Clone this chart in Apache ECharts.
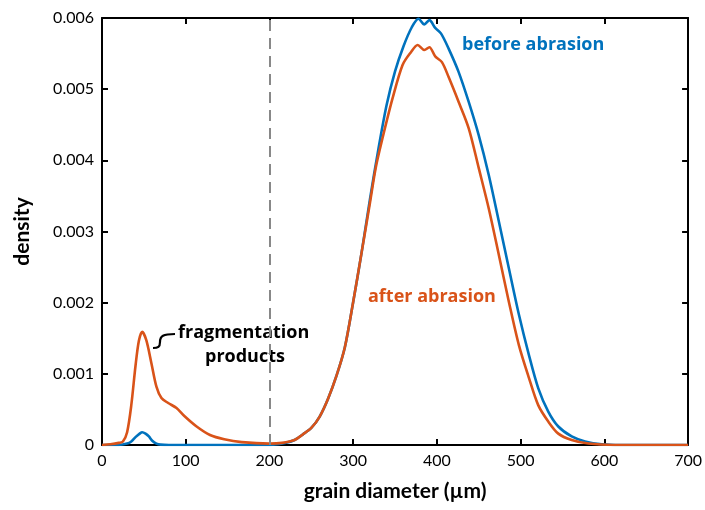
<!DOCTYPE html>
<html>
<head>
<meta charset="utf-8">
<script src="https://cdn.jsdelivr.net/npm/echarts@6/dist/echarts.min.js"></script>
<style>html,body{margin:0;padding:0;background:#fff}#c{width:705px;height:510px}</style>
</head>
<body>
<div id="c"></div>
<script>
// grain diameter (µm) and density values
const beforeX = [0,10,20,30,35,40,45,48,52,56,60,65,70,80,100,150,200,210,220,230,240,250,260,270,280,290,300,310,320,330,340,350,360,370,378,385,391,398,405,414,426,438,450,462,474,486,498,510,521,533,545,561,577,597,620,700];
const beforeY = [0,0,0,0.00002,0.00005,0.00011,0.00016,0.00018,0.00016,0.00012,0.00006,0.00002,0.000005,0,0,0,0,0.00001,0.00003,0.00007,0.00015,0.00024,0.0004,0.00065,0.00097,0.00137,0.00201,0.0027,0.00345,0.00415,0.00478,0.00525,0.0056,0.00587,0.00599,0.00591,0.00597,0.00586,0.00578,0.00557,0.00524,0.00482,0.00435,0.00379,0.00314,0.00248,0.00183,0.00126,0.0008,0.00047,0.00026,0.00012,0.00005,0.00001,0,0];
const afterX = [0,10,20,25,30,35,40,44,48,53,59,65,71,79,89,99,113,129,146,167,200,215,230,240,250,260,270,280,290,300,310,320,327,335,347,359,369,377,385,391,398,406,414,426,438,450,462,474,486,498,510,521,533,545,561,581,610,700];
const afterY = [0,0.00001,0.00003,0.00005,0.00018,0.00056,0.00111,0.00146,0.00159,0.00147,0.00115,0.00082,0.00066,0.00059,0.00052,0.0004,0.00026,0.00014,0.00008,0.00004,0.00002,0.00003,0.00007,0.00015,0.00024,0.0004,0.00065,0.00097,0.00137,0.00201,0.0027,0.0034,0.0039,0.00431,0.00487,0.00534,0.00552,0.00562,0.00555,0.00559,0.00546,0.00538,0.00517,0.00482,0.00445,0.00389,0.00332,0.00267,0.00201,0.0014,0.00094,0.00056,0.00033,0.00016,0.00007,0.00002,0,0];
const xTicks = [0,100,200,300,400,500,600,700];
const yTicks = [0,0.001,0.002,0.003,0.004,0.005,0.006];
const cutoff = 200;

const FONT = 'Lato, "Open Sans", sans-serif';
const AFONT = '"Open Sans", Lato, sans-serif';
const chart = echarts.init(document.getElementById('c'), null, {renderer:'canvas'});
const pair = (xs, ys) => xs.map((x,i)=>[x, ys[i]]);
const axisCommon = {
  axisLine:{show:true, onZero:false, lineStyle:{color:'#000', width:2}},
  axisTick:{show:true, inside:true, length:6, lineStyle:{color:'#000', width:2}},
  splitLine:{show:false}
};
chart.setOption({
  animation:false,
  backgroundColor:'#fff',
  grid:{left:102, right:15, top:18, bottom:65},
  xAxis:[
    Object.assign({type:'value', min:0, max:700, interval:100, position:'bottom',
      name:'grain diameter (µm)', nameLocation:'middle', nameGap:36,
      nameTextStyle:{fontFamily:FONT, fontWeight:'bold', fontSize:21, color:'#000'},
      axisLabel:{fontFamily:FONT, fontSize:16, color:'#000', margin:8}}, axisCommon),
    Object.assign({type:'value', min:0, max:700, interval:100, position:'top',
      axisLabel:{show:false}}, axisCommon)
  ],
  yAxis:[
    Object.assign({type:'value', min:0, max:0.006, interval:0.001, position:'left',
      name:'density', nameLocation:'middle', nameGap:69,
      nameTextStyle:{fontFamily:FONT, fontWeight:'bold', fontSize:21, color:'#000'},
      axisLabel:{fontFamily:FONT, fontSize:16, color:'#000', margin:8,
        formatter:v => v===0 ? '0' : v.toFixed(3)}}, axisCommon),
    Object.assign({type:'value', min:0, max:0.006, interval:0.001, position:'right',
      axisLabel:{show:false}}, axisCommon)
  ],
  series:[
    {type:'line', name:'before abrasion', data:pair(beforeX, beforeY), smooth:0.3, showSymbol:false,
     lineStyle:{color:'#0072BD', width:2.6}, z:3,
     markLine:{silent:true, symbol:'none', label:{show:false},
       lineStyle:{color:'#888', type:[11,7], width:2},
       data:[{xAxis:cutoff}]}},
    {type:'line', name:'after abrasion', data:pair(afterX, afterY), smooth:0.3, showSymbol:false,
     lineStyle:{color:'#D95319', width:2.6}, z:4}
  ],
  graphic:[
    {type:'text', x:462, y:45, style:{text:'before abrasion', fill:'#0072BD', font:'bold 18px '+AFONT, textVerticalAlign:'middle', verticalAlign:'middle'}},
    {type:'text', x:368, y:297, style:{text:'after abrasion', fill:'#D95319', font:'bold 18px '+AFONT, textVerticalAlign:'middle', verticalAlign:'middle'}},
    {type:'text', x:178, y:333, style:{text:'fragmentation', fill:'#000', font:'bold 18px '+AFONT, textVerticalAlign:'middle', verticalAlign:'middle'}},
    {type:'text', x:205, y:357, style:{text:'products', fill:'#000', font:'bold 18px '+AFONT, textVerticalAlign:'middle', verticalAlign:'middle'}},
    {type:'bezierCurve', shape:{x1:153,y1:348,cpx1:158,cpy1:348,cpx2:160,cpy2:347,x2:160,y2:342},
     style:{stroke:'#000', lineWidth:2.2, fill:null}},
    {type:'bezierCurve', shape:{x1:160,y1:342,cpx1:160,cpy1:336,cpx2:163,cpy2:334,x2:175,y2:334},
     style:{stroke:'#000', lineWidth:2.2, fill:null}}
  ]
});
</script>
</body>
</html>
